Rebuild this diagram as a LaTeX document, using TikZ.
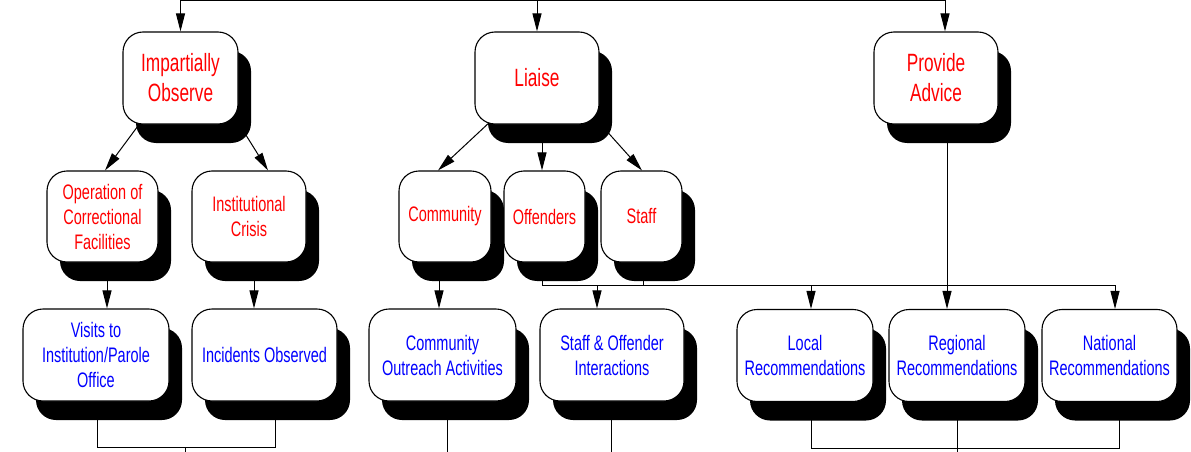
\documentclass[tikz,border=0pt]{standalone}
\usepackage{fontspec}
\setmainfont[FakeStretch=0.69]{Liberation Sans}
\usetikzlibrary{arrows.meta,shadows,backgrounds}
\definecolor{lblred}{RGB}{255,0,0}
\definecolor{lblblue}{RGB}{0,0,255}
\tikzset{
 box/.style={draw=black, line width=1.1pt, fill=white, rounded corners=20pt, inner sep=0pt, align=center,
   drop shadow={shadow xshift=13pt, shadow yshift=-19pt, fill=black, opacity=1}},
 lvlA/.style={box, text=lblred, font=\fontsize{25}{30}\selectfont, minimum height=92pt},
 lvlB/.style={box, text=lblred, font=\fontsize{21}{25}\selectfont, minimum height=91pt},
 lvlC/.style={box, text=lblblue, font=\fontsize{21}{25}\selectfont, minimum height=92pt},
 conn/.style={line width=1pt, draw=black},
 arr/.style={conn, -{Triangle[length=18pt,width=9pt]}},
}
\begin{document}
\begin{tikzpicture}[x=1pt,y=-1pt]
\useasboundingbox (0,0) rectangle (1191,452);
% level A
\node[lvlA, minimum width=115pt] (IO) at (180.5,78) {Impartially\\Observe};
\node[lvlA, minimum width=124pt] (LI) at (537,78) {Liaise};
\node[lvlA, minimum width=124pt] (PA) at (936,78) {Provide\\Advice};
% level B
\node[lvlB, minimum width=111pt] (OP) at (102.5,216.5) {Operation of\\Correctional\\Facilities};
\node[lvlB, minimum width=114pt] (IC) at (249,216.5) {Institutional\\Crisis};
\node[lvlB, minimum width=92pt] (CO) at (445,216.5) {Community};
\node[lvlB, minimum width=81pt] (OF) at (544.5,216.5) {Offenders};
\node[lvlB, minimum width=81pt] (ST) at (641.5,216.5) {Staff};
% level C
\node[lvlC, minimum width=146pt] (VI) at (96,355) {Visits to\\Institution/Parole\\Office};
\node[lvlC, minimum width=145pt] (IN) at (264.5,355) {Incidents Observed};
\node[lvlC, minimum width=147pt] (CA) at (442.5,355) {Community\\Outreach Activities};
\node[lvlC, minimum width=144pt] (SO) at (612,355) {Staff \& Offender\\Interactions};
\node[lvlC, minimum width=136pt] (LR) at (805,355.5) {Local\\Recommendations};
\node[lvlC, minimum width=136pt] (RR) at (957,355.5) {Regional\\Recommendations};
\node[lvlC, minimum width=135pt] (NR) at (1109.5,355.5) {National\\Recommendations};

\begin{pgfonlayer}{background}
% top bar
\coordinate (topbar) at ([yshift=31pt]LI.north);
\draw[conn] (IO.north |- topbar) -- ([xshift=9pt]PA.north |- topbar);
\draw[arr] (IO.north |- topbar) -- (IO.north);
\draw[arr] (topbar) -- (LI.north);
\draw[arr] ([xshift=9pt]PA.north |- topbar) -- ([xshift=9pt]PA.north);
% Impartially Observe children
\draw[arr] ([xshift=-41.5pt]IO.south) -- ([xshift=2.5pt]OP.north);
\draw[arr] ([xshift=64.5pt,yshift=-9pt]IO.south) -- ([xshift=19pt]IC.north);
% Liaise children
\draw[arr] (LI.center) -- ([xshift=-7pt]CO.north);
\draw[arr] ([xshift=-2.5pt]OF.north |- LI.center) -- ([xshift=-2.5pt]OF.north);
\draw[arr] ([xshift=71pt,yshift=-8pt]LI.south) -- ([xshift=0.5pt]ST.north);
% to level C
\draw[arr] ([xshift=4.5pt]OP.south) -- ([xshift=4.5pt]OP.south |- VI.north);
\draw[arr] ([xshift=5pt]IC.south) -- ([xshift=5pt]IC.south |- IN.north);
\draw[arr] ([xshift=-6pt]CO.south) -- ([xshift=-6pt]CO.south |- CA.north);
% bus
\coordinate (bus) at ([yshift=-22.5pt]OF.south);
\draw[conn] ([xshift=-2.5pt]OF.south) |- ([xshift=5.5pt]NR.north |- bus);
\draw[conn] ([xshift=1.5pt]ST.south) -- ([xshift=1.5pt]ST.south |- bus);
\draw[arr] ([xshift=11pt]PA.south) -- ([xshift=-10pt]RR.north);
\draw[arr] ([xshift=-15pt]SO.north |- bus) -- ([xshift=-15pt]SO.north);
\draw[arr] ([xshift=6pt]LR.north |- bus) -- ([xshift=6pt]LR.north);
\draw[arr] ([xshift=5.5pt]NR.north |- bus) -- ([xshift=5.5pt]NR.north);
% bottom
\coordinate (lowbar) at ([yshift=-46pt]VI.south);
\coordinate (edge) at ([yshift=-53pt]VI.south);
\draw[conn] ([xshift=1pt]VI.south) |- ([xshift=10.5pt]IN.south |- lowbar) -- ([xshift=10.5pt]IN.south);
\draw[conn] ([xshift=89pt]VI.south |- lowbar) -- ([xshift=89pt]VI.south |- edge);
\draw[conn] ([xshift=4.5pt]CA.south) -- ([xshift=4.5pt]CA.south |- edge);
\draw[conn] ([xshift=-1pt]SO.south) -- ([xshift=-1pt]SO.south |- edge);
\coordinate (rbar) at ([yshift=-46.5pt]LR.south);
\draw[conn] ([xshift=6pt]LR.south) |- ([xshift=9.5pt]NR.south |- rbar) -- ([xshift=9.5pt]NR.south);
\draw[conn] (RR.south) -- (RR.south |- edge);
\end{pgfonlayer}
\end{tikzpicture}
\end{document}
